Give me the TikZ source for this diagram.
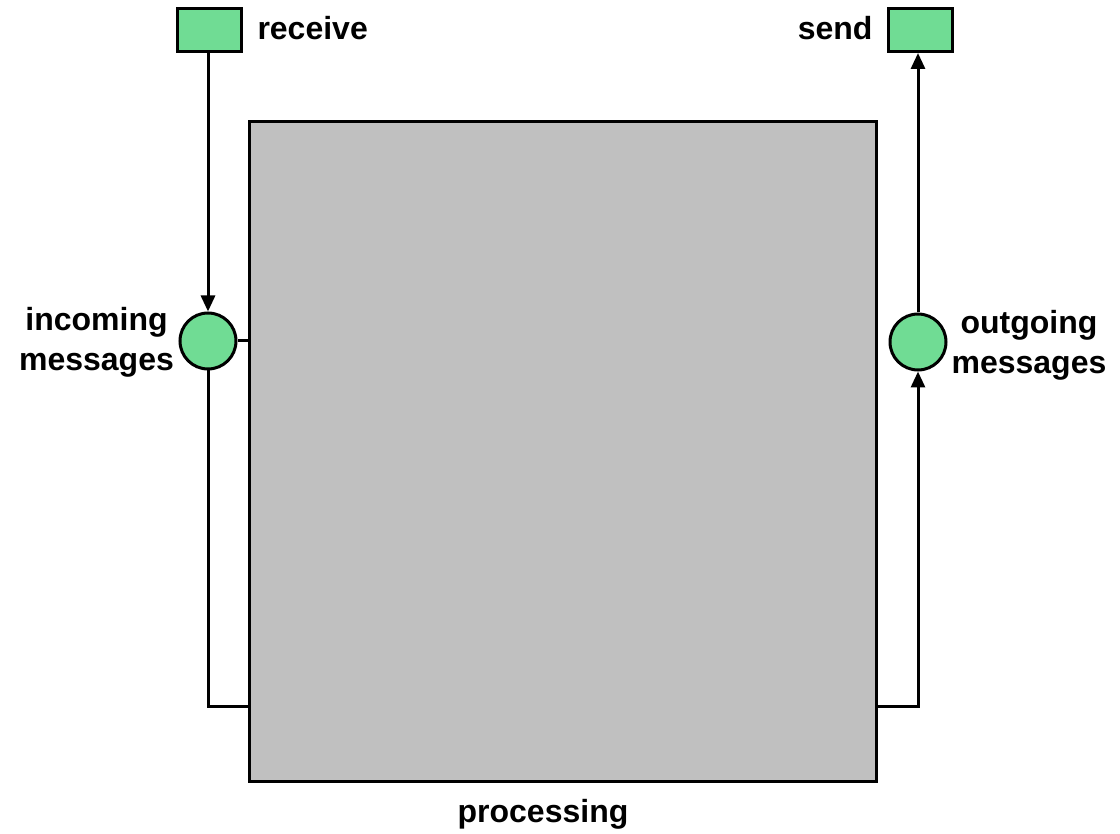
\documentclass[tikz,border=0pt]{standalone}
\usepackage{fontspec}
\setmainfont{Liberation Sans}
\usetikzlibrary{arrows.meta}
\definecolor{pgreen}{HTML}{70DC94}
\definecolor{pgray}{HTML}{C0C0C0}
\begin{document}
\begin{tikzpicture}[x=1pt,y=-1pt,line width=3pt,
  lbl/.style={font=\fontsize{32}{40}\selectfont\bfseries, align=center, inner sep=0pt},
  trans/.style={draw, fill=pgreen, minimum width=64pt, minimum height=43pt, inner sep=0pt},
  place/.style={draw, fill=pgreen, circle, minimum size=56pt, inner sep=0pt},
  arr/.style={-{Triangle[length=16pt,width=14pt]}}]
\useasboundingbox (0,0) rectangle (1120,834);
\node[draw, fill=pgray, minimum width=627pt, minimum height=659pt, inner sep=0pt] (proc) at (562.5,451.5) {};
\node[trans] (recv) at (209,30) {};
\node[trans] (send) at (920,30) {};
\node[place] (inc) at (208,341) {};
\node[place] (out) at (918,342) {};
\node[lbl, anchor=base west] (recvl) at (256,40) {receive};
\node[lbl, anchor=base east] (sendl) at (874,40) {send};
\node[lbl] (incl) at (96.5,342) {incoming\\messages};
\node[lbl] (outl) at (1029,345) {outgoing\\messages};
\node[lbl, anchor=base] (procl) at (543,822) {processing};
\coordinate (bl) at (208,706);
\coordinate (br) at (918,706);
\draw[arr] (recv.south -| inc) -- (inc.north);
\draw[arr] (out.north) -- (send.south -| out);
\draw (inc.east) -- (inc.east -| proc.west);
\draw (inc.south) -- (bl) -- (bl -| proc.west);
\draw[arr] (br -| proc.east) -- (br) -- (out.south);
\end{tikzpicture}
\end{document}
